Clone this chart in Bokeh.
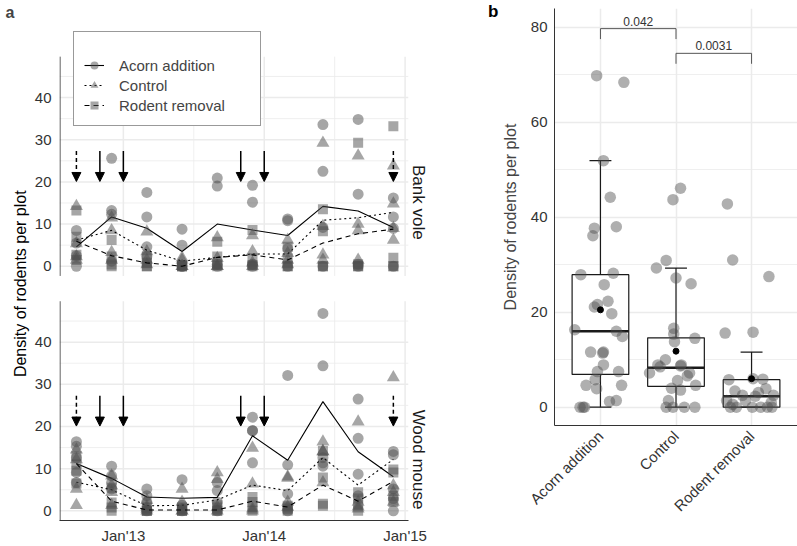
import math
from bokeh.plotting import figure
from bokeh.models import (Range1d, FixedTicker, ColumnDataSource, Legend, LegendItem,
                          Arrow, NormalHead, LinearAxis)
from bokeh.layouts import row
from bokeh.embed import file_html
from bokeh.resources import INLINE
from bokeh.core.properties import value

FONT = "Liberation Sans"

# ---------------- data: panel a ----------------
sample_month = [8, 11, 14, 17, 20, 23, 26, 29, 32, 35]      # months after Jan 2012
treatments = ["Acorn addition", "Control", "Rodent removal"]
date_ticks = [12, 24, 36]
date_labels = ["Jan'13", "Jan'14", "Jan'15"]

bank_vole_acorn = [[8.5, 5.5, 2.5, 0.0], [25.6, 13.2, 12.3, 1.2], [17.5, 11.7, 4.6, 2.3],
                   [8.8, 5.0, 0.0, 0.0], [20.9, 19.0, 0.5, 0.0], [19.2, 15.2, 0.5, 0.0],
                   [11.2, 10.8, 4.2, 0.0], [33.6, 22.5, 9.2, 0.0], [34.8, 17.1, 0.5, 0.0],
                   [16.2, 11.7, 9.0, 0.0]]
bank_vole_control = [[14.2, 5.4, 2.3, 1.5], [11.5, 8.5, 3.3, 1.5], [8.2, 3.5, 1.5, 0.4],
                     [2.0, 1.5, 0.0, 0.0], [6.8, 1.9, 0.0, 0.0], [7.3, 3.5, 0.8, 0.0],
                     [6.2, 3.1, 1.5, 0.4], [29.2, 9.5, 2.7, 1.5], [26.2, 10.0, 8.5, 1.5],
                     [23.8, 14.8, 9.0, 6.2]]
bank_vole_removal = [[13.2, 7.0, 2.7, 1.5], [6.2, 2.3, 0.4, 0.0], [2.3, 0.8, 0.0, 0.0],
                     [0.3, 0.0, 0.0, 0.0], [5.8, 2.3, 0.5, 0.0], [8.6, 1.9, 0.3, 0.0],
                     [4.6, 1.9, 0.0, 0.0], [13.5, 8.3, 0.0, 0.0], [29.3, 0.5, 0.0, 0.0],
                     [33.2, 2.0, 0.0, 0.0]]
wood_mouse_acorn = [[16.4, 15.3, 12.6, 9.1, 6.7], [10.6, 8.3, 6.7, 5.2], [5.2, 3.6, 2.1, 0.0],
                    [7.4, 1.3, 0.5, 0.0], [6.7, 4.8, 2.1, 0.0], [22.2, 19.0, 19.0, 11.4],
                    [32.1, 10.9, 4.0, 0.0], [46.8, 34.4, 12.6, 11.4, 10.6], [26.5, 17.2, 8.7, 3.6],
                    [14.1, 13.3, 5.2, 2.9, 0.0]]
wood_mouse_control = [[14.5, 12.2, 5.2, 1.3], [8.3, 6.0, 4.4, 1.3], [2.5, 1.0, 0.5, 0.0],
                      [5.2, 2.1, 0.0, 0.0], [9.1, 7.5, 0.9, 0.0], [14.9, 6.4, 0.5, 0.0],
                      [8.1, 7.8, 2.1, 0.9], [16.4, 14.1, 14.1, 6.7], [21.1, 2.1, 1.0, 0.5],
                      [31.6, 6.0, 4.4, 2.1]]
wood_mouse_removal = [[13.0, 11.0, 9.5, 6.5], [5.5, 2.0, 0.8, 0.0], [0.8, 0.0, 0.0, 0.0],
                      [0.8, 0.0, 0.0, 0.0], [1.3, 0.8, 0.0, 0.0], [3.3, 2.1, 1.0, 0.0],
                      [1.2, 0.8, 0.4, 0.0], [14.2, 7.9, 1.7, 1.2], [4.4, 2.9, 1.5, 0.0],
                      [9.8, 9.1, 3.6, 2.1]]

bank_vole_acorn_mean = [4.6, 11.7, 9.0, 3.5, 10.0, 8.6, 7.3, 14.2, 13.1, 9.2]
bank_vole_control_mean = [6.2, 8.5, 3.8, 1.2, 2.1, 2.9, 2.9, 10.9, 11.5, 12.8]
bank_vole_removal_mean = [5.9, 2.5, 0.8, 0.0, 2.1, 2.7, 1.5, 5.5, 7.7, 8.8]
wood_mouse_acorn_mean = [11.2, 7.7, 3.3, 3.0, 3.2, 17.8, 12.0, 25.9, 14.0, 8.1]
wood_mouse_control_mean = [6.8, 5.0, 1.2, 1.3, 2.6, 6.1, 4.8, 12.6, 6.1, 12.2]
wood_mouse_removal_mean = [11.2, 2.3, 0.2, 0.2, 0.2, 2.3, 0.9, 6.1, 2.3, 7.0]

arrow_solid_month = [10, 12, 22, 24]
arrow_dashed_month = [8, 35]
arrow_from, arrow_to = 27.3, 20.1

# ---------------- data: panel b ----------------
group_pos = [1, 2, 3]
box_q1 = [6.9, 4.4, 0.0]
box_median = [16.0, 8.3, 2.3]
box_q3 = [27.9, 14.6, 5.8]
whisker_lo = [0.0, 0.0, 0.0]
whisker_hi = [51.9, 29.3, 11.6]
group_mean = [20.5, 11.8, 6.0]

acorn_jitter = [-0.05, 0.31, 0.04, 0.13, -0.10, -0.08, 0.21, -0.26, 0.17, 0.05, 0.10, -0.08,
                -0.04, 0.15, -0.34, 0.21, 0.29, -0.13, 0.04, 0.03, -0.04, 0.24, 0.04, -0.07,
                -0.19, -0.05, 0.28, 0.12, 0.21, -0.27, -0.23, -0.21]
acorn_density = [69.8, 68.4, 51.9, 44.2, 36.1, 37.7, 38.0, 27.9, 28.2, 25.8, 22.3, 21.1,
                 21.6, 19.7, 16.3, 16.0, 14.9, 11.6, 11.6, 11.4, 7.5, 7.5, 8.9, 5.8,
                 4.6, 3.9, 4.6, 1.2, 1.4, 0.0, 0.0, 0.0]
control_jitter = [0.06, -0.04, -0.13, -0.26, 0.00, 0.20, -0.03, -0.03, -0.02, 0.25, -0.14, -0.24,
                  -0.21, 0.07, 0.06, -0.35, 0.18, 0.15, 0.02, -0.06, 0.06, 0.26, -0.10, -0.13,
                  -0.04, 0.11, 0.25]
control_density = [46.1, 43.7, 30.9, 29.3, 27.2, 26.0, 16.6, 15.4, 13.8, 14.5, 10.0, 8.9,
                   8.5, 8.9, 8.7, 7.2, 7.2, 6.6, 5.6, 4.0, 3.6, 4.6, 1.4, 0.0,
                   0.0, 0.0, 0.0]
removal_jitter = [-0.32, -0.25, 0.23, -0.35, 0.02, -0.30, 0.02, 0.15, 0.19, 0.09, -0.22, -0.12,
                  0.29, -0.33, -0.28, -0.20, 0.01, 0.12, 0.21, 0.27, -0.08, 0.26, -0.25, 0.05]
removal_density = [42.8, 31.0, 27.5, 15.6, 15.8, 5.8, 6.0, 5.9, 3.9, 3.1, 3.4, 2.5,
                   2.5, 1.4, 0.0, 0.0, 0.0, 0.0, 0.0, 0.0, 1.4, 1.0, 0.6, 2.3]

comparison_from = [1, 2]
comparison_to = [2, 3]
comparison_height = [79.7, 74.5]
comparison_p = ["0.042", "0.0031"]

# ---------------- styling constants ----------------
PT = "#4d4d4d"
GRID = "#ebebeb"
AXIS = "#333333"
Y_TITLE = "Density of rodents per plot"


def plain_axis(ax, size="15px", standoff=8):
    ax.major_tick_line_color = None
    ax.minor_tick_line_color = None
    ax.major_tick_out = 0
    ax.major_tick_in = 0
    ax.minor_tick_out = 0
    ax.minor_tick_in = 0
    ax.major_label_standoff = standoff
    ax.major_label_text_font = FONT
    ax.major_label_text_font_size = size
    ax.major_label_text_color = AXIS


# ============ panel a ============
XA0, XA1 = 6.56, 36.29
FACET_LO, FACET_HI = -2.3, 49.7
UPPER = 58          # shift of the upper (Bank vole) panel in the shared frame
YA0, YA1 = -2.29, 116.27

pa = figure(width=440, height=546, x_range=Range1d(XA0, XA1), y_range=Range1d(YA0, YA1),
            output_backend="svg", toolbar_location=None,
            min_border_left=55, min_border_right=30, min_border_top=20, min_border_bottom=24)
pa.frame_align = False
pa.extra_y_ranges = {"bv": Range1d(YA0 - UPPER, YA1 - UPPER)}
pa.outline_line_color = None
pa.xgrid.grid_line_color = None
pa.ygrid.grid_line_color = None
pa.title.text = "a"
pa.title.align = "left"
pa.title.offset = -54
pa.title.standoff = 0
pa.title.text_font = FONT
pa.title.text_font_size = "16px"
pa.title.text_font_style = "bold"

major_y = [0, 10, 20, 30, 40]
minor_y = [5, 15, 25, 35, 45]
minor_x = [18, 30]

for rn in ("default", "bv"):
    pa.segment(x0=[XA0] * 5, x1=[XA1] * 5, y0=minor_y, y1=minor_y, line_color=GRID,
               line_width=0.8, y_range_name=rn)
    pa.segment(x0=minor_x, x1=minor_x, y0=[FACET_LO] * 2, y1=[FACET_HI] * 2, line_color=GRID,
               line_width=0.8, y_range_name=rn)
    pa.segment(x0=[XA0] * 5, x1=[XA1] * 5, y0=major_y, y1=major_y, line_color=GRID,
               line_width=1.5, y_range_name=rn)
    pa.segment(x0=date_ticks, x1=date_ticks, y0=[FACET_LO] * 3, y1=[FACET_HI] * 3,
               line_color=GRID, line_width=1.5, y_range_name=rn)
    pa.segment(x0=[XA0 + 0.045], x1=[XA0 + 0.045], y0=[FACET_LO], y1=[FACET_HI],
               line_color=AXIS, line_width=1, y_range_name=rn)


def flat(vals):
    xs, ys = [], []
    for m, vs in zip(sample_month, vals):
        for v in vs:
            xs.append(m)
            ys.append(v)
    return xs, ys


markers = ["circle", "triangle", "square"]
msizes = [11, 13, 10]
dashes = ["solid", "2 3", "5 4"]

facet_data = [
    ("bv", [bank_vole_acorn, bank_vole_control, bank_vole_removal],
     [bank_vole_acorn_mean, bank_vole_control_mean, bank_vole_removal_mean]),
    ("default", [wood_mouse_acorn, wood_mouse_control, wood_mouse_removal],
     [wood_mouse_acorn_mean, wood_mouse_control_mean, wood_mouse_removal_mean]),
]

legend_renderers = {}
for rn, pts, means in facet_data:
    for k in range(3):
        xs, ys = flat(pts[k])
        sr = pa.scatter(xs, ys, marker=markers[k], size=msizes[k], fill_color=PT, fill_alpha=0.5,
                        line_color=None, y_range_name=rn)
        lr = pa.line(sample_month, means[k], line_color="black", line_width=1.1,
                     line_dash=dashes[k], y_range_name=rn)
        if rn == "bv":
            legend_renderers[k] = [lr, sr]

    solid_src = ColumnDataSource(dict(x=arrow_solid_month, y0=[arrow_from] * len(arrow_solid_month),
                                      y1=[arrow_to] * len(arrow_solid_month)))
    dashed_src = ColumnDataSource(dict(x=arrow_dashed_month, y0=[arrow_from] * len(arrow_dashed_month),
                                       y1=[arrow_to] * len(arrow_dashed_month)))
    pa.add_layout(Arrow(end=NormalHead(size=9, fill_color="black", line_color="black"),
                        x_start="x", y_start="y0", x_end="x", y_end="y1", source=solid_src,
                        line_color="black", line_width=1.5, y_range_name=rn))
    pa.add_layout(Arrow(end=NormalHead(size=9, fill_color="black", line_color="black"),
                        x_start="x", y_start="y0", x_end="x", y_end="y1", source=dashed_src,
                        line_color="black", line_width=1.5, line_dash="4 3", y_range_name=rn))

# axes
pa.xaxis.ticker = FixedTicker(ticks=date_ticks)
pa.xaxis.major_label_overrides = {t: l for t, l in zip(date_ticks, date_labels)}
pa.xaxis.axis_line_color = AXIS
plain_axis(pa.xaxis, standoff=6)

pa.yaxis.ticker = FixedTicker(ticks=major_y + [v + UPPER for v in major_y])
overrides = {v: str(v) for v in major_y}
overrides.update({v + UPPER: str(v) for v in major_y})
pa.yaxis.major_label_overrides = overrides
pa.yaxis.axis_line_color = None
plain_axis(pa.yaxis, standoff=8)

# shared y title for both facets, as an outer left axis with a single labelled tick
TITLE_Y = 76
title_axis = LinearAxis(ticker=FixedTicker(ticks=[TITLE_Y]), major_label_overrides={TITLE_Y: Y_TITLE})
title_axis.axis_line_color = None
plain_axis(title_axis, size="16px", standoff=11)
title_axis.major_label_orientation = math.pi / 2
title_axis.major_label_text_color = "black"
pa.add_layout(title_axis, "left")

strip_mid = 24
strip_axis = LinearAxis(ticker=FixedTicker(ticks=[strip_mid + UPPER, strip_mid]),
                        major_label_overrides={strip_mid + UPPER: "Bank vole", strip_mid: "Wood mouse"})
strip_axis.axis_line_color = None
plain_axis(strip_axis, size="17px", standoff=10)
strip_axis.major_label_orientation = -math.pi / 2
strip_axis.major_label_text_color = "#1a1a1a"
pa.add_layout(strip_axis, "right")

legend = Legend(items=[LegendItem(label=treatments[k], renderers=legend_renderers[k]) for k in range(3)],
                location=(14, 394), border_line_color=AXIS, border_line_width=1,
                background_fill_color="white", background_fill_alpha=1.0,
                padding=10, spacing=0, glyph_width=20, glyph_height=20, label_height=20,
                label_standoff=15, label_width=131, margin=0,
                label_text_font=FONT, label_text_font_size="15px",
                title=" ", title_text_font_size="10px", title_standoff=2)
pa.add_layout(legend)

# ============ panel b ============
XB0, XB1 = 0.392, 3.608
pb = figure(width=357, height=546, x_range=Range1d(XB0, XB1), y_range=Range1d(-3.85, 83.94),
            output_backend="svg", toolbar_location=None,
            min_border_left=114, min_border_right=0, min_border_top=8, min_border_bottom=121)
pb.frame_align = False
pb.outline_line_color = None
xt = FixedTicker(ticks=group_pos)
yt = FixedTicker(ticks=[0, 20, 40, 60, 80], minor_ticks=[10, 30, 50, 70])
pb.xaxis.ticker = xt
pb.xgrid.ticker = xt
pb.yaxis.ticker = yt
pb.ygrid.ticker = yt
pb.xgrid.grid_line_color = GRID
pb.xgrid.grid_line_width = 1.5
pb.ygrid.grid_line_color = GRID
pb.ygrid.grid_line_width = 1.5
pb.ygrid.minor_grid_line_color = GRID
pb.ygrid.minor_grid_line_width = 0.8

for ax in (pb.xaxis, pb.yaxis):
    ax.axis_line_color = AXIS
plain_axis(pb.xaxis, standoff=8)
plain_axis(pb.yaxis, standoff=7)
pb.xaxis.major_label_overrides = {p: t for p, t in zip(group_pos, treatments)}
pb.xaxis.major_label_orientation = math.pi / 4
pb.yaxis.axis_label = Y_TITLE
pb.yaxis.axis_label_text_font = FONT
pb.yaxis.axis_label_text_font_size = "16px"
pb.yaxis.axis_label_text_font_style = "normal"
pb.yaxis.axis_label_standoff = 9

# panel tag "b" as an outer left axis label
TAG_Y = 83.9
tag_axis = LinearAxis(ticker=FixedTicker(ticks=[TAG_Y]), major_label_overrides={TAG_Y: "b"})
tag_axis.axis_line_color = None
plain_axis(tag_axis, size="17px", standoff=0)
tag_axis.major_label_text_font_style = "bold"
tag_axis.major_label_text_color = "black"
pb.add_layout(tag_axis, "left")

BOXW, CAPW = 0.75, 0.29
box_src = ColumnDataSource(dict(
    x=group_pos, q1=box_q1, q3=box_q3, med=box_median, lo=whisker_lo, hi=whisker_hi, mean=group_mean,
    bl=[p - BOXW / 2 for p in group_pos], br=[p + BOXW / 2 for p in group_pos],
    cl=[p - CAPW / 2 for p in group_pos], cr=[p + CAPW / 2 for p in group_pos]))
pb.vbar(x="x", top="q3", bottom="q1", width=BOXW, source=box_src, fill_color="white",
        line_color="#1a1a1a", line_width=1.2)
pb.segment(x0="x", x1="x", y0="q3", y1="hi", source=box_src, line_color="#1a1a1a", line_width=1.2)
pb.segment(x0="x", x1="x", y0="lo", y1="q1", source=box_src, line_color="#1a1a1a", line_width=1.2)
pb.segment(x0="cl", x1="cr", y0="hi", y1="hi", source=box_src, line_color="#1a1a1a", line_width=1.2)
pb.segment(x0="cl", x1="cr", y0="lo", y1="lo", source=box_src, line_color="#1a1a1a", line_width=1.2)
pb.segment(x0="bl", x1="br", y0="med", y1="med", source=box_src, line_color="#1a1a1a", line_width=2.6)

for pos, jit, dens in ((1, acorn_jitter, acorn_density), (2, control_jitter, control_density),
                       (3, removal_jitter, removal_density)):
    pb.scatter([pos + j for j in jit], dens, size=11.5, fill_color=PT, fill_alpha=0.45, line_color=None)

pb.scatter("x", "mean", source=box_src, size=6, fill_color="black", line_color="black")

cmp_src = ColumnDataSource(dict(
    x0=comparison_from, x1=comparison_to, h=comparison_height,
    foot=[h - 2.2 for h in comparison_height],
    xm=[(a + b) / 2 for a, b in zip(comparison_from, comparison_to)],
    ty=[h + 0.6 for h in comparison_height], p=comparison_p))
pb.segment(x0="x0", x1="x1", y0="h", y1="h", source=cmp_src, line_color="#555555", line_width=1)
pb.segment(x0="x0", x1="x0", y0="foot", y1="h", source=cmp_src, line_color="#555555", line_width=1)
pb.segment(x0="x1", x1="x1", y0="foot", y1="h", source=cmp_src, line_color="#555555", line_width=1)
pb.text(x="xm", y="ty", text="p", source=cmp_src, text_align="center", text_baseline="bottom",
        text_font=value(FONT), text_font_size="12px", text_color="#333333")

layout = row(pa, pb)
open("out.html", "w").write(file_html(layout, INLINE))
